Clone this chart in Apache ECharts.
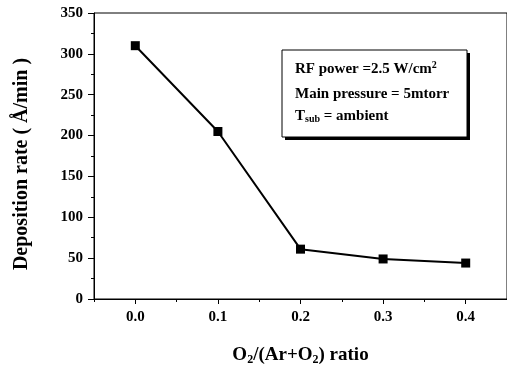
<!DOCTYPE html>
<html>
<head>
<meta charset="utf-8">
<script src="https://cdn.jsdelivr.net/npm/echarts@6/dist/echarts.min.js"></script>
<style>html,body{margin:0;padding:0;background:#fff}#c{width:507px;height:371px}</style>
</head>
<body>
<div id="c"></div>
<script>
const ratios = [0.0, 0.1, 0.2, 0.3, 0.4];
const depositionRate = [310, 205, 61, 49, 44];
const xMajorTicks = [0.0, 0.1, 0.2, 0.3, 0.4];
const xMinorTicks = [-0.05, 0.05, 0.15, 0.25, 0.35];
const noteLines = ['RF power =2.5 W/cm', 'Main pressure = 5mtorr', ' = ambient'];

const FONT = '"Liberation Serif", "DejaVu Serif", serif';
const chart = echarts.init(document.getElementById('c'), null, {renderer: 'canvas'});

const axisBase = {
  type: 'value', min: -0.05, max: 0.45, position: 'bottom',
  splitLine: {show: false}
};

chart.setOption({
  animation: false,
  backgroundColor: '#fff',
  grid: {left: 94, top: 13, width: 419, height: 291, show: true, borderColor: '#000', borderWidth: 1, backgroundColor: 'transparent'},
  xAxis: [
    Object.assign({}, axisBase, {
      name: '{b|O}{s|2}{b|/(Ar+O}{s|2}{b|) ratio}',
      nameLocation: 'middle', nameGap: 46,
      nameTextStyle: {
        rich: {
          b: {fontFamily: FONT, fontWeight: 'bold', fontSize: 19, color: '#000'},
          s: {fontFamily: FONT, fontWeight: 'bold', fontSize: 12, color: '#000', verticalAlign: 'bottom', padding: [9, 0, 0, 0]}
        }
      },
      axisLine: {show: true, onZero: false, lineStyle: {color: '#000', width: 1}},
      axisTick: {show: true, length: 5, customValues: xMajorTicks, lineStyle: {color: '#000'}},
      axisLabel: {show: true, customValues: xMajorTicks, margin: 11, fontFamily: FONT, fontWeight: 'bold', fontSize: 15, color: '#000',
        formatter: v => v.toFixed(1)}
    }),
    Object.assign({}, axisBase, {
      axisLine: {show: false, onZero: false},
      axisTick: {show: true, length: 3, customValues: xMinorTicks, lineStyle: {color: '#000'}},
      axisLabel: {show: false}
    })
  ],
  yAxis: {
    type: 'value', min: 0, max: 350, interval: 50,
    name: 'Deposition rate ( Å/min )',
    nameLocation: 'middle', nameRotate: 90, nameGap: 62,
    nameTextStyle: {fontFamily: FONT, fontWeight: 'bold', fontSize: 20, color: '#000', padding: [0, 16, 0, 0]},
    splitLine: {show: false},
    axisLine: {show: true, onZero: false, lineStyle: {color: '#000', width: 1}},
    axisTick: {show: true, length: 6, lineStyle: {color: '#000'}},
    minorTick: {show: true, splitNumber: 2, length: 3, lineStyle: {color: '#000'}},
    axisLabel: {margin: 11, fontFamily: FONT, fontWeight: 'bold', fontSize: 15, color: '#000'}
  },
  series: [{
    type: 'line',
    data: ratios.map((r, i) => [r, depositionRate[i]]),
    symbol: 'rect', symbolSize: 9,
    itemStyle: {color: '#000'},
    lineStyle: {color: '#000', width: 2}
  }],
  graphic: [
    {type: 'rect', shape: {x: 285, y: 53, width: 185, height: 87}, style: {fill: '#000'}, z: 10},
    {type: 'rect', shape: {x: 282, y: 50, width: 185, height: 87}, style: {fill: '#fff', stroke: '#000', lineWidth: 1}, z: 11},
    {type: 'text', left: 295, top: 60, z: 12,
      style: {text: '{t|' + noteLines[0] + '}{sup|2}', rich: {
        t: {fontFamily: FONT, fontWeight: 'bold', fontSize: 15, fill: '#000'},
        sup: {fontFamily: FONT, fontWeight: 'bold', fontSize: 10, fill: '#000', verticalAlign: 'top', padding: [0, 0, 8, 0]}
      }}},
    {type: 'text', left: 295, top: 87, z: 12,
      style: {text: noteLines[1], font: 'bold 15px ' + FONT, fill: '#000'}},
    {type: 'text', left: 295, top: 109, z: 12,
      style: {text: '{t|T}{sub|sub}{t|' + noteLines[2] + '}', rich: {
        t: {fontFamily: FONT, fontWeight: 'bold', fontSize: 15, fill: '#000'},
        sub: {fontFamily: FONT, fontWeight: 'bold', fontSize: 10, fill: '#000', verticalAlign: 'bottom', padding: [6, 0, 0, 0]}
      }}}
  ]
});
</script>
</body>
</html>
